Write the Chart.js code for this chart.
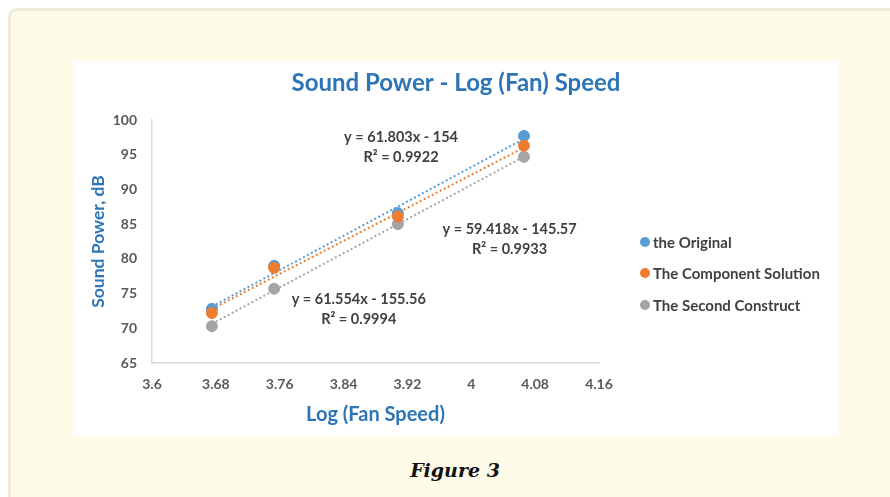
<!DOCTYPE html>
<html>
<head>
<meta charset="utf-8">
<script src="https://cdn.jsdelivr.net/npm/chart.js@4.4.1/dist/chart.umd.min.js"></script>
<style>
    body { margin: 0; background: #ffffff; font-family: Lato, sans-serif; }
    .frame {
        position: absolute; left: 8px; top: 8px; width: 900px; height: 520px;
        background: #fffbe9; border: 3px solid #eeeadd; border-radius: 9px; box-sizing: border-box;
    }
    .plotbox { position: absolute; left: 73px; top: 61px; width: 766px; height: 375px; background: #fff; }
    #myChart { position: absolute; left: 0; top: 0; }
    .legend { position: absolute; left: 567px; top: 165px; font: bold 15px Lato, sans-serif; color: #404040; }
    .legend div { height: 31.5px; display: flex; align-items: center; }
    .legend span.dot { width: 10px; height: 10px; border-radius: 50%; margin-right: 3px; display: inline-block; }
    .caption {
        position: absolute; left: 0; width: 910px; top: 459px; text-align: center;
        font: italic bold 19px "DejaVu Serif", serif; color: #111;
    }
</style>
</head>
<body>
<div class="frame"></div>
<div class="plotbox">
    <canvas id="myChart" width="766" height="375"></canvas>
    <div class="legend" id="legend"></div>
</div>
<div class="caption">Figure 3</div>
<script>
// log of fan speed
const xValues = [3.675, 3.753, 3.908, 4.066];
const originalValues = [72.8, 79.0, 86.6, 97.7];
const componentValues = [72.2, 78.7, 86.1, 96.3];
const secondValues = [70.3, 75.7, 85.0, 94.7];

const seriesNames = ["the Original", "The Component Solution", "The Second Construct"];
const seriesColors = ["#5b9bd5", "#ed7d31", "#a5a5a5"];

// trendline coefficients as printed on the chart [slope, intercept, r2]
const trendOriginal = [61.803, -154, 0.9922];
const trendComponent = [59.418, -145.57, 0.9933];
const trendSecond = [61.554, -155.56, 0.9994];

const xTicks = [3.6, 3.68, 3.76, 3.84, 3.92, 4, 4.08, 4.16];

const allSeries = [originalValues, componentValues, secondValues];
const allTrends = [trendOriginal, trendComponent, trendSecond];

const trendLine = (t) => [xValues[0], xValues[xValues.length - 1]].map(x => ({ x: x, y: t[0] * x + t[1] }));

const datasets = [];
allSeries.forEach((vals, i) => {
    datasets.push({
        type: "scatter",
        label: seriesNames[i],
        data: vals.map((v, j) => ({ x: xValues[j], y: v })),
        backgroundColor: seriesColors[i],
        borderColor: seriesColors[i],
        pointRadius: 5.5,
        pointHoverRadius: 5.5,
        order: [2, 1, 3][i],
    });
});
allTrends.forEach((t, i) => {
    datasets.push({
        type: "line",
        label: seriesNames[i] + " trend",
        data: trendLine(t),
        borderColor: seriesColors[i],
        borderWidth: 2,
        borderDash: [2, 2.5],
        pointRadius: 0,
        fill: false,
        order: 10 + i,
    });
});

// where each equation label sits, in data units
const labelSpots = [
    { trend: trendOriginal, x: 3.912, y: 97.5 },
    { trend: trendComponent, x: 4.048, y: 84.3 },
    { trend: trendSecond, x: 3.859, y: 74.1 },
];

const equationLabels = {
    id: "equationLabels",
    afterDatasetsDraw(chart) {
        const { ctx, scales } = chart;
        ctx.save();
        ctx.font = "bold 14.5px Lato, sans-serif";
        ctx.fillStyle = "#404040";
        ctx.textAlign = "center";
        ctx.textBaseline = "middle";
        labelSpots.forEach(s => {
            const px = scales.x.getPixelForValue(s.x);
            const py = scales.y.getPixelForValue(s.y);
            const b = s.trend[1];
            const sign = b < 0 ? " - " : " + ";
            ctx.fillText("y = " + s.trend[0] + "x" + sign + Math.abs(b), px, py);
            ctx.fillText("R\u00B2 = " + s.trend[2], px, py + 20);
        });
        ctx.restore();
    }
};

const ctx = document.getElementById("myChart").getContext("2d");
new Chart(ctx, {
    data: { datasets: datasets },
    options: {
        responsive: false,
        animation: false,
        layout: { padding: 0 },
        plugins: {
            legend: { display: false },
            tooltip: { enabled: false },
            title: {
                display: true,
                text: "Sound Power - Log (Fan) Speed",
                color: "#2e75b6",
                font: { family: "Lato", size: 24, weight: "bold" },
                padding: { top: 7.6, bottom: 22.6 },
            },
        },
        scales: {
            x: {
                type: "linear",
                min: 3.6,
                max: 4.16,
                afterBuildTicks: (axis) => { axis.ticks = xTicks.map(v => ({ value: v })); },
                afterFit: (axis) => { axis.height = 73; },
                grid: { display: false, drawTicks: false },
                border: { color: "#d9d9d9", width: 1.5 },
                ticks: {
                    padding: 13,
                    color: "#595959",
                    font: { family: "Lato", size: 14, weight: "bold" },
                    callback: (v) => String(+v.toFixed(2)),
                },
                title: {
                    display: true,
                    text: "Log (Fan Speed)",
                    color: "#2e75b6",
                    font: { family: "Lato", size: 20, weight: "bold" },
                    padding: { top: 0, bottom: 9 },
                },
            },
            y: {
                min: 65,
                max: 100,
                afterFit: (axis) => { axis.width = 79; },
                grid: { display: false, drawTicks: false },
                border: { color: "#d9d9d9", width: 1.5 },
                ticks: {
                    stepSize: 5,
                    padding: 15,
                    color: "#595959",
                    font: { family: "Lato", size: 14, weight: "bold" },
                },
                title: {
                    display: true,
                    text: "Sound Power, dB",
                    color: "#2e75b6",
                    font: { family: "Lato", size: 17.5, weight: "bold" },
                    padding: { top: 15, bottom: 0 },
                },
            },
            // empty axis on the right that keeps room for the legend
            yRight: {
                position: "right",
                min: 65,
                max: 100,
                afterFit: (axis) => { axis.width = 240; },
                grid: { display: false, drawTicks: false },
                border: { display: false },
                ticks: { display: false },
            },
        },
    },
    plugins: [equationLabels],
});

// legend outside the canvas, to the right of the plot
const legendEl = document.getElementById("legend");
seriesNames.forEach((name, i) => {
    const row = document.createElement("div");
    row.innerHTML = '<span class="dot" style="background:' + seriesColors[i] + '"></span>' + name;
    legendEl.appendChild(row);
});
</script>
</body>
</html>
